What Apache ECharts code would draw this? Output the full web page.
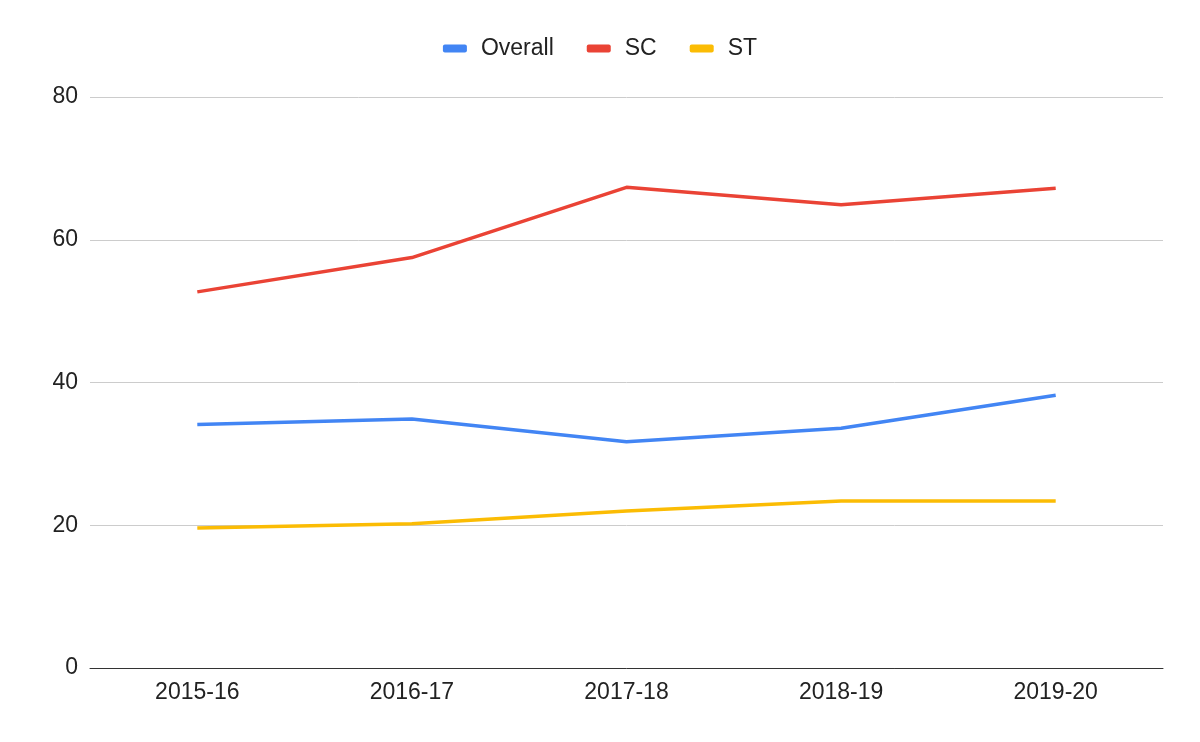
<!DOCTYPE html>
<html><head><meta charset="utf-8">
<script src="https://cdn.jsdelivr.net/npm/echarts@6/dist/echarts.min.js"></script>
<style>html,body{margin:0;padding:0;background:#fff}#c{width:1200px;height:742px}</style>
</head><body><div id="c"></div>
<script>
const categories = ['2015-16','2016-17','2017-18','2018-19','2019-20'];
const overall = [34.1, 34.9, 31.7, 33.6, 38.2];
const sc = [52.7, 57.5, 67.35, 64.9, 67.2];
const st = [19.6, 20.2, 22.0, 23.4, 23.4];
const yTicks = [0, 20, 40, 60, 80];

const chart = echarts.init(document.getElementById('c'));
const font = '"Liberation Sans", Arial, sans-serif';
function mk(name, data, color){
  return {name, type:'line', data, symbol:'none', smooth:false,
    lineStyle:{color, width:3.5}, itemStyle:{color}};
}
chart.setOption({
  animation:false,
  legend:{top:32, left:'center', itemWidth:24, itemHeight:8, itemGap:33,
    icon:'roundRect',
    textStyle:{fontFamily:font, fontSize:23, color:'#222', padding:[0,0,0,9]},
    data:['Overall','SC','ST']},
  grid:{left:90, right:37, top:97, bottom:74, containLabel:false},
  xAxis:{type:'category', data:categories, boundaryGap:true,
    axisLine:{lineStyle:{color:'#333', width:1}}, axisTick:{show:false},
    axisLabel:{fontFamily:font, fontSize:23, color:'#222', margin:13}},
  yAxis:{type:'value', min:yTicks[0], max:yTicks[yTicks.length-1], interval:20,
    axisLine:{show:false}, axisTick:{show:false},
    splitLine:{lineStyle:{color:'#ccc', width:1}},
    axisLabel:{fontFamily:font, fontSize:23, color:'#222', margin:12, verticalAlign:'middle', padding:[3,0,0,0]}},
  series:[mk('Overall', overall, '#4285f4'), mk('SC', sc, '#ea4335'), mk('ST', st, '#fbbc04')]
});
</script></body></html>
